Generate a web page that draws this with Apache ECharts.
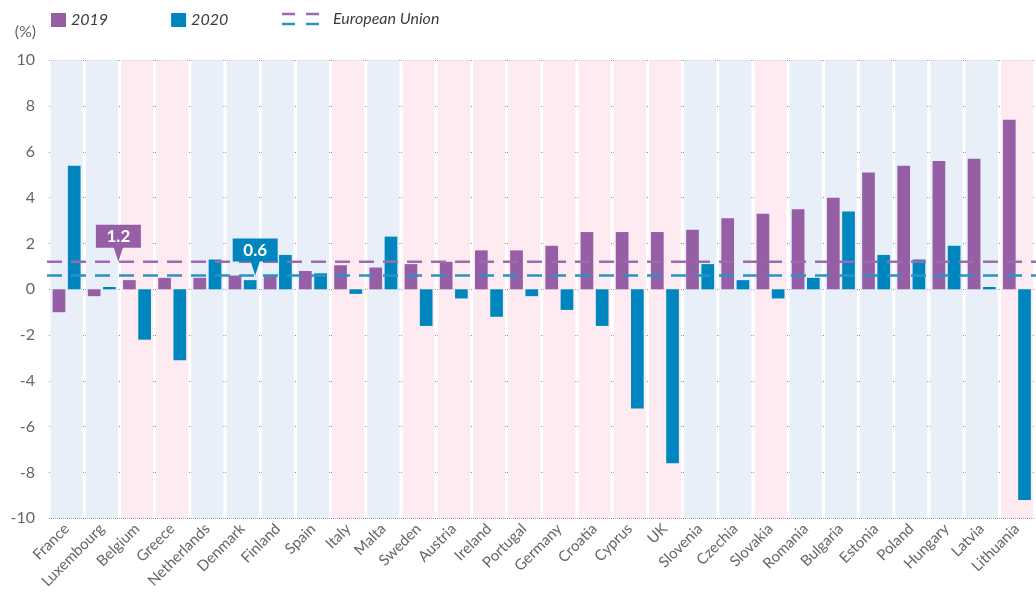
<!DOCTYPE html>
<html>
<head>
<meta charset="utf-8">
<title>Annual change by country, 2019 and 2020</title>
<script src="https://cdn.jsdelivr.net/npm/echarts@6/dist/echarts.min.js"></script>
<style>
  html, body { margin: 0; padding: 0; background: #fff; }
  #chart { width: 1036px; height: 597px; }
</style>
</head>
<body>
<div id="chart"></div>
<script>
// Countries, in the order shown on the axis
const categories = ['France', 'Luxembourg', 'Belgium', 'Greece', 'Netherlands', 'Denmark', 'Finland',
  'Spain', 'Italy', 'Malta', 'Sweden', 'Austria', 'Ireland', 'Portugal', 'Germany', 'Croatia',
  'Cyprus', 'UK', 'Slovenia', 'Czechia', 'Slovakia', 'Romania', 'Bulgaria', 'Estonia', 'Poland',
  'Hungary', 'Latvia', 'Lithuania'];

// Annual change (%)
const values2019 = [-1.0, -0.3, 0.4, 0.5, 0.5, 0.6, 0.6, 0.8, 1.05, 0.95, 1.1, 1.2, 1.7, 1.7,
  1.9, 2.5, 2.5, 2.5, 2.6, 3.1, 3.3, 3.5, 4.0, 5.1, 5.4, 5.6, 5.7, 7.4];
const values2020 = [5.4, 0.1, -2.2, -3.1, 1.3, 0.4, 1.5, 0.7, -0.2, 2.3, -1.6, -0.4, -1.2, -0.3,
  -0.9, -1.6, -5.2, -7.6, 1.1, 0.4, -0.4, 0.5, 3.4, 1.5, 1.3, 1.9, 0.1, -9.2];

// European Union averages
const euAverage2019 = 1.2;
const euAverage2020 = 0.6;

// Background shading group of each country column ('b' = blue, 'p' = pink)
const columnGroups = ['b', 'b', 'p', 'p', 'b', 'b', 'b', 'b', 'p', 'b', 'p', 'p', 'p', 'p',
  'p', 'p', 'p', 'p', 'b', 'b', 'p', 'b', 'b', 'b', 'b', 'b', 'b', 'p'];

// Value axis ticks
const yMin = -10;
const yMax = 10;
const yStep = 2;

const PURPLE = '#955ea5';
const BLUE = '#0086bf';
const LINE_PURPLE = '#9d6aaf';
const LINE_BLUE = '#2b92c8';
const BAND = { b: '#e8eff9', p: '#fdebf1' };
const FONT = 'Lato';

const chart = echarts.init(document.getElementById('chart'), null, { renderer: 'canvas' });

const bandColor = columnGroups.map(g => ({ itemStyle: { color: BAND[g] } }));
const bandUpper = bandColor.map(c => Object.assign({ value: yMax }, c));
const bandLower = bandColor.map(c => Object.assign({ value: yMin }, c));

const calloutShape = 'path://M0,0L45,0L45,23L27,23L22.5,37L18,23L0,23Z';

function callout(name, value, color, dx) {
  return {
    coord: [name, value],
    value: value,
    symbol: calloutShape,
    symbolSize: [45, 37],
    symbolOffset: [dx, '-50%'],
    itemStyle: { color: color },
    label: {
      show: true,
      position: 'inside',
      offset: [0, -7],
      formatter: () => value.toFixed(1),
      color: '#fff',
      fontFamily: FONT,
      fontWeight: 'bold',
      fontSize: 17
    }
  };
}

const option = {
  animation: false,
  backgroundColor: '#fff',
  textStyle: { fontFamily: FONT },
  grid: { left: 49, right: 1.5, top: 60.3, bottom: 78.7, containLabel: false },
  legend: {
    data: ['2019', '2020'],
    left: 51,
    top: 12,
    padding: 0,
    itemWidth: 15,
    itemHeight: 14,
    itemGap: 63,
    itemTextGap: 14,
    icon: 'rect',
    textStyle: { fontFamily: FONT, fontStyle: 'italic', fontSize: 16, color: '#3c3c3c' }
  },
  graphic: [
    { type: 'line', x: 282, y: 14, shape: { x1: 0, y1: 0, x2: 38, y2: 0 },
      style: { stroke: LINE_PURPLE, lineWidth: 2.5, lineDash: [13, 11] } },
    { type: 'line', x: 282, y: 24, shape: { x1: 0, y1: 0, x2: 38, y2: 0 },
      style: { stroke: LINE_BLUE, lineWidth: 2.5, lineDash: [13, 11] } },
    { type: 'text', x: 333, y: 19,
      style: { text: 'European Union', fontFamily: FONT, fontStyle: 'italic', fontSize: 16,
        fill: '#3c3c3c', verticalAlign: 'middle' } }
  ],
  xAxis: [
    {
      type: 'category',
      data: categories,
      axisLine: { show: false },
      axisTick: { show: false },
      axisLabel: { interval: 0, rotate: 45, margin: 8, color: '#666', fontSize: 15, fontFamily: FONT },
      splitLine: { show: false }
    },
    {
      type: 'category',
      data: categories,
      show: false
    }
  ],
  yAxis: {
    type: 'value',
    min: yMin,
    max: yMax,
    interval: yStep,
    name: '(%)',
    nameLocation: 'end',
    nameGap: 20,
    nameTextStyle: { align: 'right', padding: [0, 13, 0, 0], color: '#666', fontSize: 16, fontFamily: FONT },
    axisLine: { show: false },
    axisTick: { show: false },
    axisLabel: { margin: 14, color: '#666', fontSize: 16, fontFamily: FONT },
    splitLine: { show: true, lineStyle: { type: 'dotted', color: '#8c8c8c', width: 1 } }
  },
  series: [
    {
      name: 'bandUpper',
      type: 'bar',
      xAxisIndex: 1,
      stack: 'band',
      barCategoryGap: '9%',
      data: bandUpper,
      silent: true,
      z: 0
    },
    {
      name: 'bandLower',
      type: 'bar',
      xAxisIndex: 1,
      stack: 'band',
      barCategoryGap: '9%',
      data: bandLower,
      silent: true,
      z: 0
    },
    {
      name: '2019',
      type: 'bar',
      data: values2019,
      barWidth: 12.7,
      barGap: '20%',
      itemStyle: { color: PURPLE },
      z: 2,
      markPoint: {
        silent: true,
        z: 6,
        data: [callout('Belgium', euAverage2019, PURPLE, -11)]
      }
    },
    {
      name: '2020',
      type: 'bar',
      data: values2020,
      barWidth: 12.7,
      barGap: '20%',
      itemStyle: { color: BLUE },
      z: 2,
      markPoint: {
        silent: true,
        z: 6,
        data: [callout('Denmark', euAverage2020, BLUE, 5)]
      }
    },
    {
      name: 'European Union',
      type: 'custom',
      silent: true,
      z: 4,
      clip: false,
      data: [[0, euAverage2019], [0, euAverage2020]],
      encode: { x: 0, y: 1 },
      renderItem: function (params, api) {
        const y = api.coord([0, api.value(1)])[1];
        const cs = params.coordSys;
        return {
          type: 'line',
          shape: { x1: cs.x - 2, y1: y, x2: cs.x + cs.width + 2, y2: y },
          style: {
            stroke: params.dataIndex === 0 ? LINE_PURPLE : LINE_BLUE,
            lineWidth: 2.5,
            lineDash: [15, 9],
            blend: 'multiply'
          }
        };
      }
    }
  ]
};

chart.setOption(option);
</script>
</body>
</html>
